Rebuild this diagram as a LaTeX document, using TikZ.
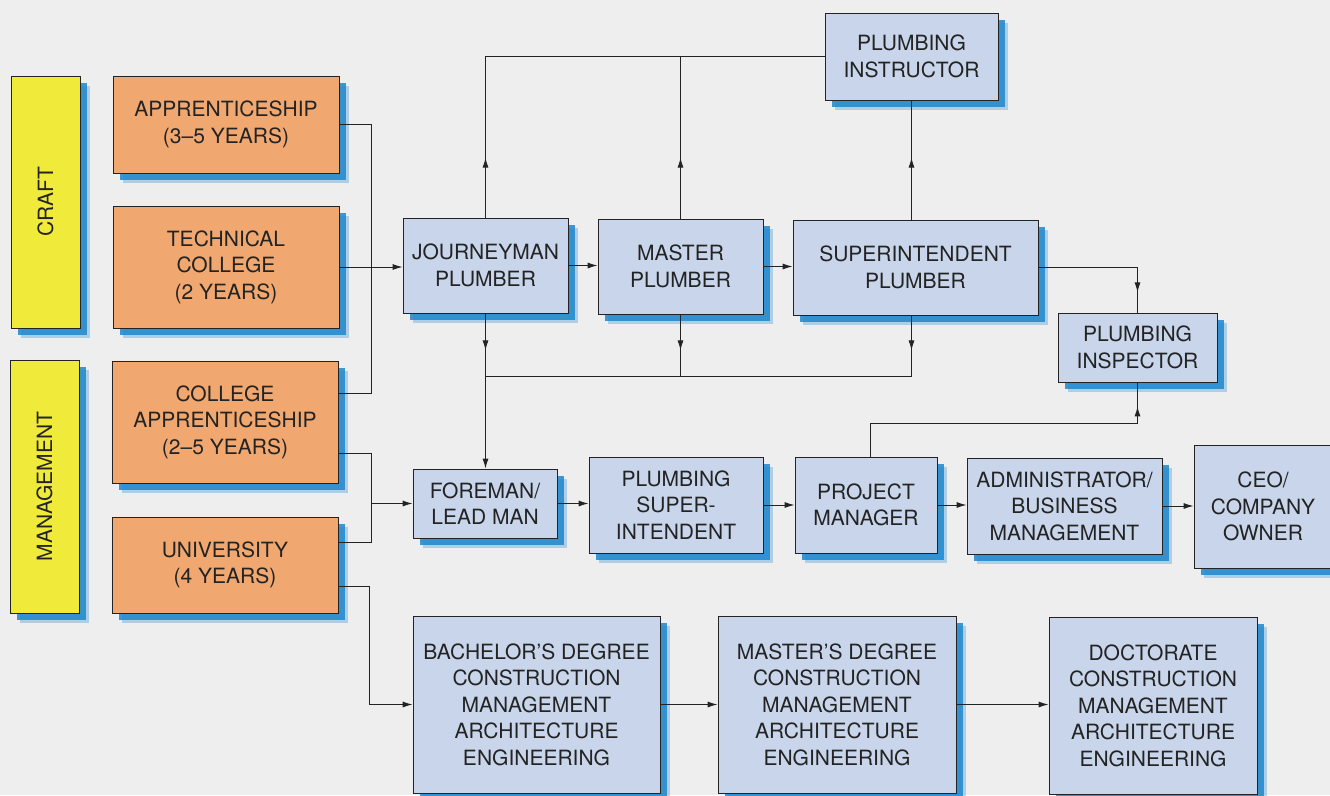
\documentclass[tikz,border=0pt]{standalone}
\usepackage{fontspec}
\usepackage{graphicx}
\setmainfont{TeX Gyre Heros}
\usetikzlibrary{arrows.meta,shadows,decorations.markings}
\definecolor{bgc}{RGB}{238,238,238}
\definecolor{ylw}{RGB}{240,234,58}
\definecolor{org}{RGB}{240,168,112}
\definecolor{blu}{RGB}{200,213,234}
\definecolor{shd}{RGB}{30,135,205}
\definecolor{ink}{RGB}{35,35,35}
\begin{document}
\begin{tikzpicture}[x=1pt,y=-1pt,
  box/.style={draw=ink, line width=0.8pt, text=ink, align=center, inner sep=0pt,
    font=\fontsize{21}{26.5}\selectfont,
    general shadow={shadow xshift=10pt,shadow yshift=-10pt,fill=shd,opacity=0.3},
    general shadow={shadow xshift=7pt,shadow yshift=-7pt,fill=shd,opacity=0.85}},
  ybox/.style={box, fill=ylw},
  obox/.style={box, fill=org},
  bbox/.style={box, fill=blu},
  sz/.style 2 args={minimum width=#1pt, minimum height=#2pt},
  wire/.style={draw=ink, line width=1pt},
  arr/.style={wire, -{Latex[length=10pt,width=6pt]}},
  tipat/.style={postaction={decorate}, decoration={markings,
    mark=at position #1 with {\arrow{Latex[length=10pt,width=6pt]}}}},
]
\useasboundingbox (0,0) rectangle (1330,795);
\clip (0,0) rectangle (1330,795);
\fill[bgc] (0,0) rectangle (1330,795);

% side labels
\node[ybox, sz={69}{252}] (craft) at (45.5,202) {\rotatebox{90}{CRAFT}};
\node[ybox, sz={69}{253}] (mgmt) at (44.5,486.5) {\rotatebox{90}{MANAGEMENT}};

% education (orange)
\node[obox, sz={226}{97}] (appr) at (226,124.5) {APPRENTICESHIP\\(3–5 YEARS)};
\node[obox, sz={226}{122}] (tech) at (226,267) {TECHNICAL\\COLLEGE\\(2 YEARS)};
\node[obox, sz={226}{122}] (colapp) at (225,422) {COLLEGE\\APPRENTICESHIP\\(2–5 YEARS)};
\node[obox, sz={226}{96}] (univ) at (225,565) {UNIVERSITY\\(4 YEARS)};

% craft track
\node[bbox, sz={173}{87}] (instr) at (911.5,56.5) {PLUMBING\\INSTRUCTOR};
\node[bbox, sz={165}{95}] (journ) at (485.5,265.5) {JOURNEYMAN\\PLUMBER};
\node[bbox, sz={165}{95}] (master) at (680.5,266.5) {MASTER\\PLUMBER};
\node[bbox, sz={245}{95}] (superint) at (915.5,267.5) {SUPERINTENDENT\\PLUMBER};
\node[bbox, sz={159}{69}] (inspector) at (1137.5,347.5) {PLUMBING\\INSPECTOR};

% management track
\node[bbox, sz={144}{69}] (foreman) at (485,503.5) {FOREMAN/\\LEAD MAN};
\node[bbox, sz={174}{96}] (psuper) at (676,505) {PLUMBING\\SUPER-\\INTENDENT};
\node[bbox, sz={142}{96}] (pm) at (866,505) {PROJECT\\MANAGER};
\node[bbox, sz={195}{96}] (admin) at (1064.5,506) {ADMINISTRATOR/\\BUSINESS\\MANAGEMENT};
\node[bbox, sz={138}{123}] (ceo) at (1263,506.5) {CEO/\\COMPANY\\OWNER};

% degrees
\node[bbox, sz={247}{177}] (bach) at (536.5,704.5) {BACHELOR’S DEGREE\\CONSTRUCTION\\MANAGEMENT\\ARCHITECTURE\\ENGINEERING};
\node[bbox, sz={238}{177}] (mastd) at (837,704.5) {MASTER’S DEGREE\\CONSTRUCTION\\MANAGEMENT\\ARCHITECTURE\\ENGINEERING};
\node[bbox, sz={208}{177}] (doct) at (1153,705.5) {DOCTORATE\\CONSTRUCTION\\MANAGEMENT\\ARCHITECTURE\\ENGINEERING};

% helper coordinates
\coordinate (bx) at (371,0);
\coordinate (cU) at ([yshift=29pt]colapp.east);
\coordinate (cL) at ([yshift=-31pt]colapp.east);
\coordinate (uU) at ([yshift=23pt]univ.east);
\coordinate (uL) at ([yshift=-21pt]univ.east);
\coordinate (lbus) at (0,376);
\coordinate (pmb) at (0,423);

% education to careers
\draw[wire] (appr.east) -| (bx |- cU) -- (cU);
\draw[arr] (tech.east) -- (tech.east -| journ.west);
\draw[wire] (cL) -| (bx |- uU) -- (uU);
\draw[arr] (bx |- foreman.west) -- (foreman.west);
\draw[arr] (uL) -| ([xshift=-2pt]bx |- bach.west) -- (bach.west);

% craft track
\draw[arr] (journ.east) -- (journ.east -| master.west);
\draw[arr] (master.east) -- (master.east -| superint.west);
\draw[wire, tipat=60pt] (journ.north) -- (journ.north |- instr.west) -- (instr.west);
\draw[wire, tipat=61pt] (master.north) -- (master.north |- instr.west);
\draw[wire, tipat=62pt] (instr.south |- superint.north) -- (instr.south);
\draw[wire, tipat=124pt] (superint.east) -| (inspector.north);
\draw[arr, tipat=37pt] (journ.south) -- (journ.south |- foreman.north);
\draw[wire, tipat=36pt] (master.south) -- (master.south |- lbus) -- (journ.south |- lbus);
\draw[wire, tipat=35pt] (instr.south |- superint.south) -- (instr.south |- lbus) -- (master.south |- lbus);

% management track
\draw[arr] (foreman.east) -- (foreman.east -| psuper.west);
\draw[arr] (psuper.east) -- (psuper.east -| pm.west);
\draw[arr] (pm.east) -- (pm.east -| admin.west);
\draw[arr] (admin.east) -- (admin.east -| ceo.west);
\draw[wire, tipat=-24pt] ([xshift=4pt]pm.north) -- ([xshift=4pt]pm.north |- pmb) -| (inspector.south);

% degrees
\draw[arr] (bach.east) -- (bach.east -| mastd.west);
\draw[arr] (mastd.east) -- (mastd.east -| doct.west);
\end{tikzpicture}
\end{document}
